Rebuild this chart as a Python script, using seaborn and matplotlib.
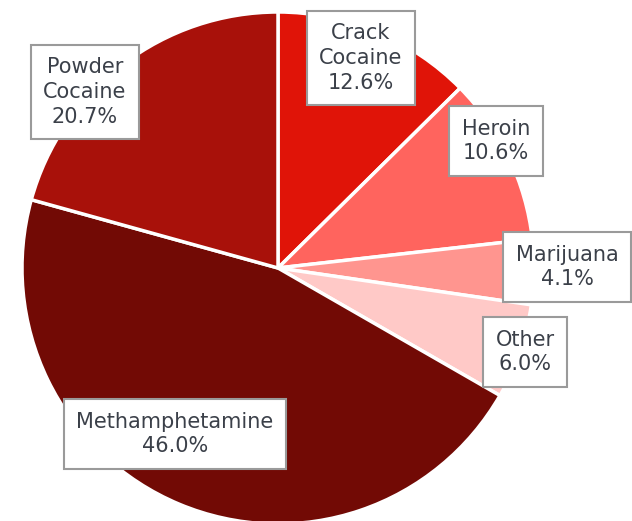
import matplotlib
matplotlib.use("Agg")
import matplotlib.pyplot as plt
import seaborn as sns

sns.set_theme(style="white")
plt.rcParams['font.family'] = ['DejaVu Sans']

# data, clockwise from 12 o'clock
drugs = ["Crack\nCocaine", "Heroin", "Marijuana", "Other", "Methamphetamine", "Powder\nCocaine"]
shares = [12.6, 10.6, 4.1, 6.0, 46.0, 20.7]
colors = ["#E01408", "#FF645E", "#FF958F", "#FFC9C7", "#720A05", "#A8110A"]

# label box centres in pixel coords (y from top)
label_pos = [(361, 58), (496, 141), (567, 267), (525, 352), (175, 434), (85, 92)]

W, H = 632, 521
fig = plt.figure(figsize=(W / 100, H / 100), dpi=100)
ax = fig.add_axes([0, 0, 1, 1])

cx, cy, r = 278, H - 268, 256
ax.pie(shares, colors=colors, startangle=90, counterclock=False,
       center=(cx, cy), radius=r,
       wedgeprops=dict(edgecolor="white", linewidth=2.5))

for name, val, (px, py) in zip(drugs, shares, label_pos):
    ax.text(px, H - py, f"{name}\n{val:.1f}%", ha="center", va="center",
            fontsize=15, color="#3B4049", linespacing=1.3,
            bbox=dict(boxstyle="square,pad=0.6", facecolor="white",
                      edgecolor="#9A9A9A", linewidth=1.5))

ax.set_xlim(0, W)
ax.set_ylim(0, H)
ax.set_aspect("equal")
ax.axis("off")

fig.savefig("out.png", dpi=100)
